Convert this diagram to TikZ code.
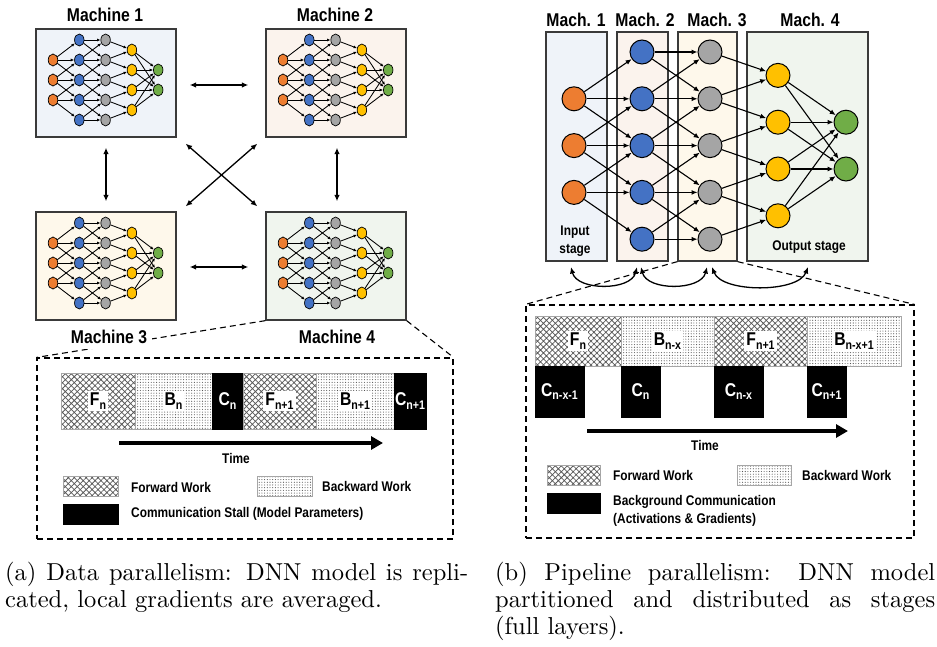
\documentclass[tikz,border=0pt]{standalone}
\usepackage{fontspec}
\newfontfamily\lbl[FakeStretch=0.85]{Liberation Sans}
\newfontfamily\capfont[Extension=.otf]{lmroman10-regular}
\usetikzlibrary{arrows.meta,shapes.geometric,patterns.meta,calc}

\definecolor{nOrange}{HTML}{ED7D31}
\definecolor{nBlue}{HTML}{4472C4}
\definecolor{nGray}{HTML}{A5A5A5}
\definecolor{nYellow}{HTML}{FFC000}
\definecolor{nGreen}{HTML}{70AD47}
\definecolor{bgA}{HTML}{EFF3F9}
\definecolor{bgB}{HTML}{FBF3ED}
\definecolor{bgC}{HTML}{FEF8EB}
\definecolor{bgD}{HTML}{F0F5EE}
\definecolor{frame}{HTML}{3A3A3A}

% letter with a lowered subscript, as used in the timelines
\newcommand{\lsub}[2]{#1\raisebox{-0.4ex}{\fontsize{12.5}{12.5}\selectfont #2}}

% fully connected layers: 3 inputs, 5, 5, 4 hidden, 2 outputs
% #1 name prefix, #2 x of first layer, #3 y of top row, #4 column step, #5 row step, #6 style
\newcommand{\dnnnet}[6]{%
\begin{scope}[#6]
\foreach \r in {1,2,3} \node[neuron,fill=nOrange] (#1o\r) at (#2,{#3+\r*#5}) {};
\foreach \r in {0,...,4} {
  \node[neuron,fill=nBlue] (#1b\r) at ({#2+#4},{#3+\r*#5}) {};
  \node[neuron,fill=nGray] (#1g\r) at ({#2+2*#4},{#3+\r*#5}) {};
}
\foreach \r in {0,...,3} \node[neuron,fill=nYellow] (#1y\r) at ({#2+3*#4},{#3+(\r+0.5)*#5}) {};
\foreach \r in {1,2} \node[neuron,fill=nGreen] (#1e\r) at ({#2+4*#4},{#3+(\r+0.5)*#5}) {};
\foreach \r in {1,2,3} \foreach \s in {-1,0,1} {%
  \pgfmathtruncatemacro\nxt{\r+\s}\draw[edge] (#1o\r) -- (#1b\nxt);}
\foreach \r in {0,...,4} \foreach \s in {-1,0,1} {%
  \pgfmathtruncatemacro\nxt{\r+\s}%
  \ifnum\nxt>-1 \ifnum\nxt<5 \draw[edge] (#1b\r) -- (#1g\nxt);\fi\fi}
\foreach \r in {0,...,4} \foreach \s in {-1,0} {%
  \pgfmathtruncatemacro\nxt{\r+\s}%
  \ifnum\nxt>-1 \ifnum\nxt<4 \draw[edge] (#1g\r) -- (#1y\nxt);\fi\fi}
\foreach \r in {0,...,3} \foreach \s in {1,2} \draw[edge] (#1y\r) -- (#1e\s);
\end{scope}}

\begin{document}
\begin{tikzpicture}[x=1pt,y=-1pt,
  mach/.style={draw=frame, line width=1.3pt, inner sep=0, rectangle},
  lab/.style={font=\lbl\bfseries\fontsize{18.5}{20}\selectfont, inner sep=1pt},
  slab/.style={font=\lbl\bfseries\fontsize{14}{18}\selectfont, inner sep=1pt},
  netsmall/.style={
    neuron/.style={ellipse, draw=black, line width=0.7pt, inner sep=0,
                   minimum width=9.5pt, minimum height=12pt},
    edge/.style={line width=0.85pt, -{Latex[length=3.5pt,width=3pt]}}},
  netbig/.style={
    neuron/.style={circle, draw=black, line width=1pt, inner sep=0, minimum size=24pt},
    edge/.style={line width=1.1pt, -{Latex[length=6pt,width=5pt]}}},
  xlink/.style={line width=1.3pt, {Latex[length=6.5pt,width=5.5pt]}-{Latex[length=6.5pt,width=5.5pt]}},
  zoomline/.style={dash pattern=on 6pt off 4pt, line width=1.1pt},
  fwd/.style={draw=gray!70, line width=0.6pt, inner sep=0, preaction={fill=white},
    pattern={Hatch[angle=45,distance=4.2pt,line width=0.75pt]}, pattern color=gray!70!black},
  bwd/.style={draw=gray!70, line width=0.6pt, inner sep=0, preaction={fill=white},
    pattern={Dots[distance=2.7pt,radius=0.55pt]}, pattern color=gray!65!black},
  comm/.style={fill=black, draw=black, line width=0.6pt, inner sep=0},
  blocktxt/.style={fill=white, inner sep=2pt, font=\lbl\bfseries\fontsize{18.5}{20}\selectfont},
  commtxt/.style={text=white, inner sep=0, font=\lbl\bfseries\fontsize{18.5}{20}\selectfont},
  timearrow/.style={line width=3.5pt, -{Triangle[length=12pt,width=13pt]}},
  captxt/.style={anchor=base west, inner sep=0, font=\capfont\fontsize{24.5}{27.5}\selectfont}
]
\useasboundingbox (0,0) rectangle (937,647);

% ---------------- (a) data parallelism ----------------
\node[mach, fill=bgA, minimum width=140pt, minimum height=108pt] (M1) at (106,83) {};
\node[mach, fill=bgB, minimum width=140pt, minimum height=108pt] (M2) at (336,83) {};
\node[mach, fill=bgC, minimum width=140pt, minimum height=108pt] (M3) at (106,266) {};
\node[mach, fill=bgD, minimum width=140pt, minimum height=108pt] (M4) at (336,266) {};

\dnnnet{ma}{53}{40}{26.3}{20}{netsmall}
\dnnnet{mb}{283}{40}{26.3}{20}{netsmall}
\dnnnet{mc}{53}{223}{26.3}{20}{netsmall}
\dnnnet{md}{283}{223}{26.3}{20}{netsmall}

\node[lab] (L1) at (105,15) {Machine 1};
\node[lab] (L2) at (335,15) {Machine 2};

% all-to-all exchange between the replicas
\draw[xlink] ([xshift=13pt,yshift=-2pt]M1.east) -- ([xshift=-17pt,yshift=-2pt]M2.west);
\draw[xlink] ([xshift=13pt,yshift=-1pt]M3.east) -- ([xshift=-17pt,yshift=-1pt]M4.west);
\draw[xlink] ([yshift=-10pt]M1.south) -- ([yshift=10pt]M3.north);
\draw[xlink] ([xshift=1pt,yshift=-10pt]M2.south) -- ([xshift=1pt,yshift=10pt]M4.north);
\draw[xlink] ($(M1.south east)+(9,6)$) -- ($(M4.north west)+(-8,-5)$);
\draw[xlink] ($(M2.south west)+(-8,6)$) -- ($(M3.north east)+(9,-5)$);

% zoomed timeline of one machine
\node[draw, zoomline, minimum width=416pt, minimum height=181pt, inner sep=0] (LZ) at (245,448.5) {};
\draw[zoomline] (M4.south west) -- (LZ.north west);
\draw[zoomline] (M4.south east) -- (LZ.north east);
\node[lab, fill=white, inner sep=5pt] (L3) at (109,337) {Machine 3};
\node[lab] (L4) at (337,337) {Machine 4};

\node[fwd,  minimum width=74pt, minimum height=56pt] (lf1) at (98,401) {};
\node[bwd,  minimum width=77pt, minimum height=56pt] (lb1) at (173.5,401) {};
\node[comm, minimum width=31pt, minimum height=56pt] (lc1) at (227.5,401) {};
\node[fwd,  minimum width=73pt, minimum height=56pt] (lf2) at (279.5,401) {};
\node[bwd,  minimum width=78pt, minimum height=56pt] (lb2) at (355,401) {};
\node[comm, minimum width=32pt, minimum height=56pt] (lc2) at (410,401) {};
\node[blocktxt] at (lf1) {\lsub{F}{n}};
\node[blocktxt] at (lb1) {\lsub{B}{n}};
\node[commtxt]  at (lc1) {\lsub{C}{n}};
\node[blocktxt] at (lf2) {\lsub{F}{n+1}};
\node[blocktxt] at (lb2) {\lsub{B}{n+1}};
\node[commtxt]  at (lc2) {\lsub{C}{n+1}};

\coordinate (lt0) at (119,443);
\coordinate (lt1) at (383,443);
\draw[timearrow] (lt0) -- (lt1);
\node[slab] (ltime) at (236,458) {Time};

\node[fwd,  minimum width=55pt, minimum height=20pt] (lkf) at (90.5,486.5) {};
\node[comm, minimum width=55pt, minimum height=20pt] (lkc) at (90.5,514) {};
\node[bwd,  minimum width=55pt, minimum height=20pt] (lkb) at (284.5,486) {};
\node[slab, anchor=west] at (130,487) {Forward Work};
\node[slab, anchor=west] at (130,514) {Communication Stall (Model Parameters)};
\node[slab, anchor=west] at (321,486) {Backward Work};

% ---------------- (b) pipeline parallelism ----------------
\node[mach, fill=bgA, minimum width=61pt,  minimum height=229pt] (P1) at (576.5,146.5) {};
\node[mach, fill=bgB, minimum width=51pt,  minimum height=229pt] (P2) at (642.5,146.5) {};
\node[mach, fill=bgC, minimum width=59pt,  minimum height=229pt] (P3) at (707.5,146.5) {};
\node[mach, fill=bgD, minimum width=121pt, minimum height=229pt] (P4) at (807.5,146.5) {};

\dnnnet{p}{574}{52}{68}{46.8}{netbig}

\node[lab] (Q1) at (576,20) {Mach. 1};
\node[lab] (Q2) at (645,20) {Mach. 2};
\node[lab] (Q3) at (717,20) {Mach. 3};
\node[lab] (Q4) at (810,20) {Mach. 4};
\node[slab, align=center] (inst) at (575,241) {Input\\stage};
\node[slab] (outst) at (809,247) {Output stage};

% stage-to-stage transfers
\coordinate (a1) at (571,267);
\coordinate (a2) at (637,267);
\coordinate (a3) at (641,267);
\coordinate (a4) at (707,267);
\coordinate (a5) at (712,267);
\coordinate (a6) at (808,267);
\draw[xlink] (a1) .. controls +(6,24) and +(-6,24) .. (a2);
\draw[xlink] (a3) .. controls +(6,24) and +(-6,24) .. (a4);
\draw[xlink] (a5) .. controls +(10,26) and +(-10,26) .. (a6);

% zoomed pipeline timeline
\node[draw, zoomline, minimum width=388pt, minimum height=233pt, inner sep=0] (RZ) at (720,421.5) {};
\draw[zoomline] (P3.south west) -- (RZ.north west);
\draw[zoomline] (P3.south east) -- (RZ.north east);

\node[fwd, minimum width=86pt, minimum height=50pt] (rf1) at (578,341) {};
\node[bwd, minimum width=93pt, minimum height=50pt] (rb1) at (667.5,341) {};
\node[fwd, minimum width=93pt, minimum height=50pt] (rf2) at (760.5,341) {};
\node[bwd, minimum width=94pt, minimum height=50pt] (rb2) at (854,341) {};
\node[comm, minimum width=49pt, minimum height=51pt] (rc1) at (559.5,391.5) {};
\node[comm, minimum width=39pt, minimum height=51pt] (rc2) at (640.5,391.5) {};
\node[comm, minimum width=49pt, minimum height=51pt] (rc3) at (738.5,391.5) {};
\node[comm, minimum width=39pt, minimum height=51pt] (rc4) at (826.5,391.5) {};
\node[blocktxt] at (rf1) {\lsub{F}{n}};
\node[blocktxt] at (rb1) {\lsub{B}{n-x}};
\node[blocktxt] at (rf2) {\lsub{F}{n+1}};
\node[blocktxt] at (rb2) {\lsub{B}{n-x+1}};
\node[commtxt] at (rc1) {\lsub{C}{n-x-1}};
\node[commtxt] at (rc2) {\lsub{C}{n}};
\node[commtxt] at (rc3) {\lsub{C}{n-x}};
\node[commtxt] at (rc4) {\lsub{C}{n+1}};

\coordinate (rt0) at (587,431);
\coordinate (rt1) at (848,431);
\draw[timearrow] (rt0) -- (rt1);
\node[slab] (rtime) at (705,445) {Time};

\node[fwd,  minimum width=53pt, minimum height=20pt] (rkf) at (573.5,475) {};
\node[comm, minimum width=53pt, minimum height=20pt] (rkc) at (573.5,503) {};
\node[bwd,  minimum width=54pt, minimum height=20pt] (rkb) at (764,475) {};
\node[slab, anchor=west] at (612,475) {Forward Work};
\node[slab, anchor=west, align=left] at (612,511) {Background Communication\\(Activations \& Gradients)};
\node[slab, anchor=west] at (801,475) {Backward Work};

% ---------------- captions ----------------
\node[captxt] at (5,580) {\makebox[463pt][s]{(a) Data parallelism: DNN model is repli-}};
\node[captxt] at (5,607) {cated, local gradients are averaged.};
\node[captxt] at (495,580) {\makebox[440pt][s]{(b) Pipeline parallelism: DNN model}};
\node[captxt] at (495,607) {\makebox[440pt][s]{partitioned and distributed as stages}};
\node[captxt] at (495,634) {(full layers).};
\end{tikzpicture}
\end{document}
